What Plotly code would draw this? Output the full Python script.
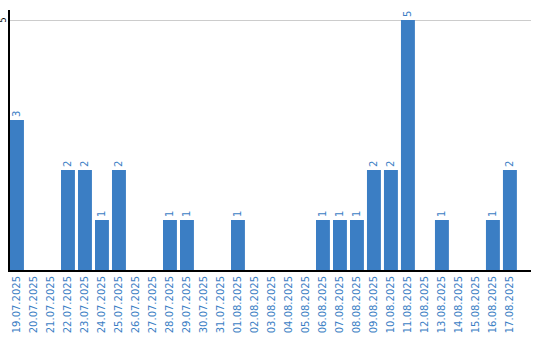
import plotly.graph_objects as go

dates = ["19.07.2025","20.07.2025","21.07.2025","22.07.2025","23.07.2025","24.07.2025","25.07.2025",
         "26.07.2025","27.07.2025","28.07.2025","29.07.2025","30.07.2025","31.07.2025","01.08.2025",
         "02.08.2025","03.08.2025","04.08.2025","05.08.2025","06.08.2025","07.08.2025","08.08.2025",
         "09.08.2025","10.08.2025","11.08.2025","12.08.2025","13.08.2025","14.08.2025","15.08.2025",
         "16.08.2025","17.08.2025"]
counts = [3,0,0,2,2,1,2,0,0,1,1,0,0,1,0,0,0,0,1,1,1,2,2,5,0,1,0,0,1,2]
labels = [str(v) if v > 0 else "" for v in counts]
y_ticks = [5]

blue = "#3b7ec4"

fig = go.Figure(go.Bar(
    x=dates, y=counts, text=labels, textposition="outside", textangle=-90,
    textfont=dict(size=10, color=blue, family="DejaVu Sans"),
    marker=dict(color=blue, line=dict(width=0)), cliponaxis=False,
))

for t in y_ticks:
    fig.add_annotation(x=0, xref="paper", xanchor="right", xshift=-1, y=t, yref="y",
                       text=str(t), textangle=-90, showarrow=False,
                       font=dict(size=8, color="black", family="DejaVu Sans"))

fig.update_layout(
    width=540, height=340,
    margin=dict(l=10, r=9, t=10, b=70),
    plot_bgcolor="white", paper_bgcolor="white",
    bargap=0.18, showlegend=False,
    xaxis=dict(type="category", range=[-0.41, 30.24], tickangle=-90, showline=True,
               linecolor="black", linewidth=2,
               tickfont=dict(size=10, color=blue, family="DejaVu Sans"), ticks="", showgrid=False,
               automargin=False),
    yaxis=dict(range=[0, 5.2], tickvals=y_ticks, showticklabels=False,
               showline=True, linecolor="black", linewidth=2, showgrid=True, gridcolor="#cccccc",
               gridwidth=1, zeroline=False, ticks="", automargin=False),
)

fig.write_html("out.html")
